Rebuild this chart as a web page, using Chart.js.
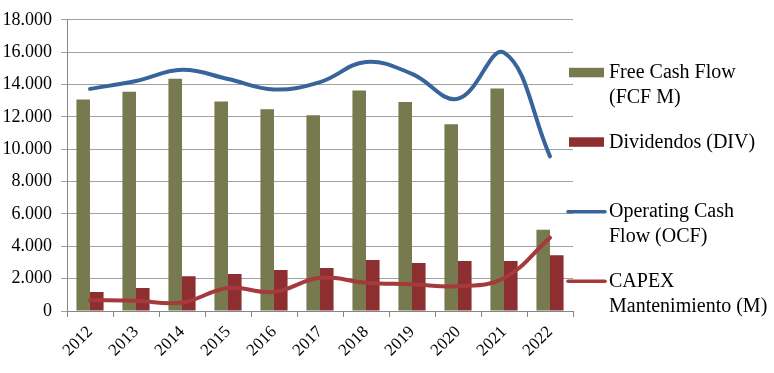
<!DOCTYPE html>
<html>
<head>
<meta charset="utf-8">
<script src="https://cdn.jsdelivr.net/npm/chart.js@4"></script>
<style>
  html, body { margin: 0; padding: 0; background: #fff; }
  #wrap { width: 774px; height: 373px; position: relative; }
</style>
</head>
<body>
<div id="wrap"><canvas id="c" width="774" height="373"></canvas></div>
<script>
const categories = ['2012','2013','2014','2015','2016','2017','2018','2019','2020','2021','2022'];
const fcfValues   = [13070, 13560, 14360, 12950, 12470, 12100, 13630, 12920, 11550, 13750, 5020];
const divValues   = [1180, 1420, 2150, 2280, 2540, 2660, 3150, 2970, 3090, 3090, 3440];
const ocfValues   = [13730, 14220, 14910, 14340, 13690, 14150, 15390, 14660, 13120, 15970, 9560];
const capexValues = [670, 630, 530, 1420, 1180, 2050, 1750, 1650, 1530, 2030, 4530];
const seriesLabels = {
  fcf: ['Free Cash Flow', '(FCF M)'],
  div: ['Dividendos (DIV)'],
  ocf: ['Operating Cash', 'Flow (OCF)'],
  capex: ['CAPEX', 'Mantenimiento (M)']
};
const yTickValues = [0, 2000, 4000, 6000, 8000, 10000, 12000, 14000, 16000, 18000];

const COLORS = { fcf: '#767A4E', div: '#8D2E31', ocf: '#38649C', capex: '#A5393B' };
const SERIF = '"Liberation Serif", "Times New Roman", serif';

function fmt(v) {
  return String(v).replace(/\B(?=(\d{3})+(?!\d))/g, '.');
}

const customLegend = {
  id: 'customLegend',
  afterDraw(chart) {
    const ctx = chart.ctx;
    const items = [
      { key: 'fcf', type: 'bar' },
      { key: 'div', type: 'bar' },
      { key: 'ocf', type: 'line' },
      { key: 'capex', type: 'line' }
    ];
    const baseY = 78.3, step = 69.5, lineH = 25;
    ctx.save();
    ctx.font = '20px ' + SERIF;
    ctx.fillStyle = '#000';
    ctx.textBaseline = 'alphabetic';
    ctx.textAlign = 'left';
    items.forEach((it, i) => {
      const y = baseY + i * step;
      if (it.type === 'bar') {
        ctx.fillStyle = COLORS[it.key];
        ctx.fillRect(569, y - 10.5, 35, 9.5);
      } else {
        ctx.strokeStyle = COLORS[it.key];
        ctx.lineWidth = 3.5;
        ctx.lineCap = 'round';
        ctx.beginPath();
        ctx.moveTo(568, y - 5.5);
        ctx.lineTo(605, y - 5.5);
        ctx.stroke();
      }
      ctx.fillStyle = '#000';
      seriesLabels[it.key].forEach((t, j) => {
        ctx.fillText(t, 609, y + j * lineH);
      });
    });
    ctx.restore();
  }
};

new Chart(document.getElementById('c'), {
  data: {
    labels: categories,
    datasets: [
      {
        type: 'line', label: seriesLabels.ocf.join(' '), data: ocfValues,
        borderColor: COLORS.ocf, backgroundColor: COLORS.ocf, borderWidth: 4,
        pointRadius: 0, tension: 0.4, order: 1, borderCapStyle: 'round'
      },
      {
        type: 'line', label: seriesLabels.capex.join(' '), data: capexValues,
        borderColor: COLORS.capex, backgroundColor: COLORS.capex, borderWidth: 4,
        pointRadius: 0, tension: 0.4, order: 1, borderCapStyle: 'round'
      },
      {
        type: 'bar', label: seriesLabels.fcf.join(' '), data: fcfValues,
        backgroundColor: COLORS.fcf, borderWidth: 0,
        barPercentage: 1.0, categoryPercentage: 0.59, order: 2
      },
      {
        type: 'bar', label: seriesLabels.div.join(' '), data: divValues,
        backgroundColor: COLORS.div, borderWidth: 0,
        barPercentage: 1.0, categoryPercentage: 0.59, order: 2
      }
    ]
  },
  options: {
    responsive: false,
    animation: false,
    devicePixelRatio: 1,
    layout: { padding: { top: 16, right: 201, bottom: 0, left: 0 } },
    plugins: {
      legend: { display: false },
      tooltip: { enabled: false }
    },
    scales: {
      x: {
        offset: true,
        grid: { offset: true, drawOnChartArea: false, drawTicks: true, tickLength: 6, color: '#868686', lineWidth: 1 },
        border: { display: true, color: '#868686', width: 1 },
        ticks: {
          minRotation: 45, maxRotation: 45, autoSkip: false,
          color: '#000', font: { family: SERIF, size: 17 }, padding: 5
        },
        afterFit(scale) { scale.height = 62; }
      },
      y: {
        min: 0, max: 18000,
        afterBuildTicks(scale) { scale.ticks = yTickValues.map(v => ({ value: v })); },
        grid: { color: '#a0a0a0', lineWidth: 1, tickLength: 6, drawTicks: true },
        border: { display: true, color: '#868686', width: 1 },
        ticks: {
          color: '#000', font: { family: SERIF, size: 18 }, padding: 9,
          callback: (v) => fmt(v)
        },
        afterFit(scale) { scale.width = 67; }
      }
    }
  },
  plugins: [customLegend]
});
</script>
</body>
</html>
